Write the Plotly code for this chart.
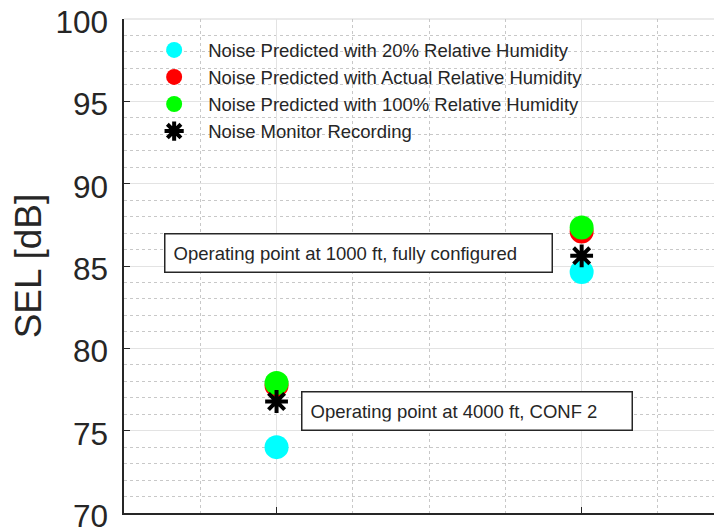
import plotly.graph_objects as go

# Operating points (x positions on the axis)
points = [1, 2]
rh20 = [74.0, 84.63]
rh_actual = [77.75, 87.1]
rh100 = [77.9, 87.34]
monitor = [76.77, 85.62]

names = [
    "Noise Predicted with 20% Relative Humidity",
    "Noise Predicted with Actual Relative Humidity",
    "Noise Predicted with 100% Relative Humidity",
    "Noise Monitor Recording",
]
notes = [
    "Operating point at 1000 ft, fully configured",
    "Operating point at 4000 ft, CONF 2",
]

FONT = "Liberation Sans, Arial, sans-serif"
fig = go.Figure()
for vals, col, nm, g in [(rh20, "#00ffff", names[0], "a"),
                         (rh_actual, "#ff0000", names[1], "b"),
                         (rh100, "#00ff00", names[2], "c")]:
    fig.add_trace(go.Scatter(x=points, y=vals, mode="markers", name=nm, legendgroup=g,
                             marker=dict(color=col, size=24, line=dict(width=0))))
fig.add_trace(go.Scatter(x=points, y=monitor, mode="markers", name=names[3], legendgroup="d",
                         marker=dict(symbol="asterisk-open", size=19, color="black",
                                     line=dict(color="black", width=4))))

fig.add_annotation(x=0.63, y=85.77, xref="x", yref="y", text=notes[0], showarrow=False,
                   xanchor="left", yanchor="middle", align="left", width=370, height=21,
                   bordercolor="#262626", borderwidth=1.5, borderpad=8, bgcolor="white",
                   font=dict(family=FONT, size=18.5, color="#262626"))
fig.add_annotation(x=1.08, y=76.17, xref="x", yref="y", text=notes[1], showarrow=False,
                   xanchor="left", yanchor="middle", align="left", width=313, height=21,
                   bordercolor="#262626", borderwidth=1.5, borderpad=8, bgcolor="white",
                   font=dict(family=FONT, size=18.5, color="#262626"))

# top border of the axes box (light grey, like the grid)
fig.add_shape(type="line", xref="paper", yref="paper", x0=0, x1=1, y0=1, y1=1,
              line=dict(color="#e3e3e3", width=1.5), layer="below")

fig.update_layout(
    width=714, height=523,
    margin=dict(l=116, r=0, t=11, b=18, autoexpand=False),
    paper_bgcolor="white", plot_bgcolor="white",
    font=dict(family=FONT, color="#262626"),
    showlegend=True,
    legend=dict(x=0.027, y=0.975, xanchor="left", yanchor="top", bgcolor="rgba(0,0,0,0)",
                font=dict(size=18.5, color="#262626"), tracegroupgap=0, itemwidth=58),
    xaxis=dict(range=[0.5, 2.46], tickmode="array", tickvals=[1, 2], showticklabels=False,
               automargin=False,
               ticks="inside", ticklen=6, tickcolor="#262626", showline=True, linecolor="#262626",
               linewidth=1.5, showgrid=True, gridcolor="#e3e3e3", gridwidth=1, zeroline=False,
               minor=dict(dtick=0.25, tick0=0, showgrid=True, gridcolor="#c8c8c8", griddash="dot",
                          gridwidth=1, ticks="")),
    yaxis=dict(range=[70, 100], dtick=5, tick0=70, ticks="inside", ticklen=6, tickcolor="#262626",
               automargin=False,
               showline=True, linecolor="#262626", linewidth=1.5, showgrid=True, gridcolor="#e3e3e3",
               gridwidth=1, zeroline=False, ticklabelstandoff=8, ticklabeloverflow="allow",
               ticklabelshift=3,
               tickfont=dict(size=31.5, color="#262626"),
               title=dict(text="SEL [dB]", font=dict(size=37, color="#262626"), standoff=8),
               minor=dict(dtick=1, showgrid=True, gridcolor="#c8c8c8", griddash="dot",
                          gridwidth=1, ticks="")),
)

fig.write_html("out.html")
